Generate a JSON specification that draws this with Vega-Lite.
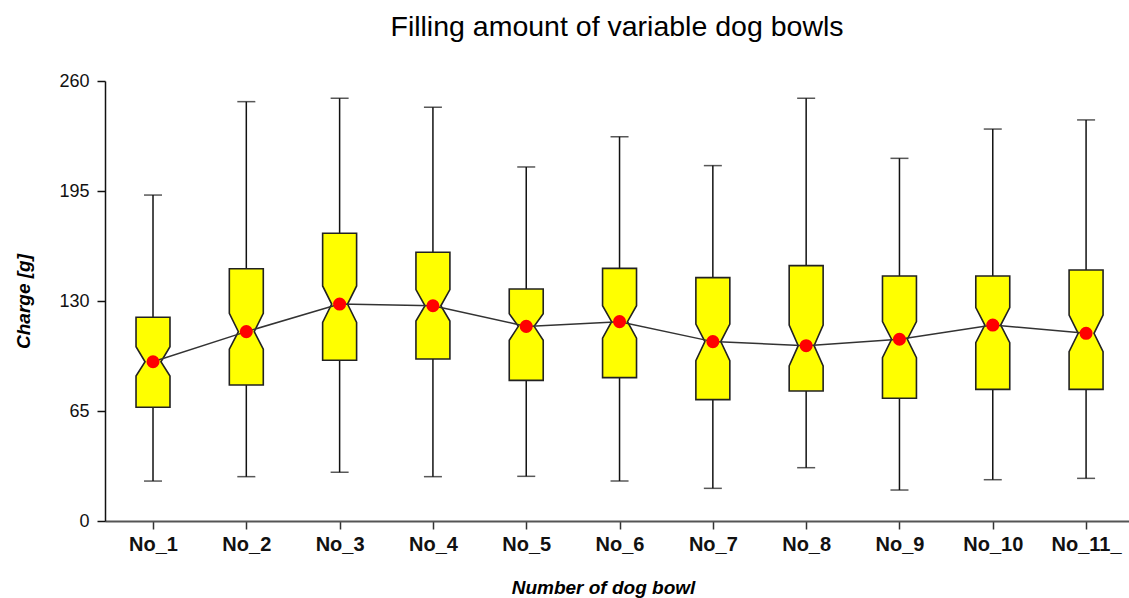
{
  "$schema": "https://vega.github.io/schema/vega-lite/v6.json",
  "width": 1024,
  "height": 440,
  "autosize": {"type": "none"},
  "padding": {"left": 105, "top": 81, "right": 0, "bottom": 77},
  "background": "white",
  "title": {
    "text": "Filling amount of variable dog bowls",
    "font": "Liberation Sans",
    "fontSize": 28.5,
    "fontWeight": "normal",
    "color": "#000000",
    "anchor": "middle",
    "offset": 31
  },
  "config": {
    "view": {"stroke": null},
    "axis": {"grid": false}
  },
  "data": {
    "values": [
      {"bowl": "No_1", "i": 1, "lo": 23.6, "q1": 67.2, "nlo": 85.7, "med": 94.1, "nhi": 103.0, "q3": 120.4, "hi": 192.6},
      {"bowl": "No_2", "i": 2, "lo": 26.2, "q1": 80.4, "nlo": 101.5, "med": 111.9, "nhi": 122.7, "q3": 149.1, "hi": 247.8},
      {"bowl": "No_3", "i": 3, "lo": 28.8, "q1": 95.0, "nlo": 117.4, "med": 128.2, "nhi": 138.9, "q3": 170.0, "hi": 249.8},
      {"bowl": "No_4", "i": 4, "lo": 26.2, "q1": 95.7, "nlo": 118.2, "med": 127.2, "nhi": 136.7, "q3": 158.8, "hi": 244.5},
      {"bowl": "No_5", "i": 5, "lo": 26.4, "q1": 83.1, "nlo": 106.8, "med": 115.0, "nhi": 122.5, "q3": 137.1, "hi": 209.2},
      {"bowl": "No_6", "i": 6, "lo": 23.6, "q1": 84.7, "nlo": 108.0, "med": 117.8, "nhi": 127.2, "q3": 149.3, "hi": 227.1},
      {"bowl": "No_7", "i": 7, "lo": 19.3, "q1": 71.7, "nlo": 94.7, "med": 106.0, "nhi": 116.4, "q3": 143.8, "hi": 210.0},
      {"bowl": "No_8", "i": 8, "lo": 31.5, "q1": 76.8, "nlo": 91.6, "med": 103.6, "nhi": 115.8, "q3": 150.9, "hi": 249.8},
      {"bowl": "No_9", "i": 9, "lo": 18.3, "q1": 72.5, "nlo": 96.5, "med": 107.4, "nhi": 117.8, "q3": 144.8, "hi": 214.3},
      {"bowl": "No_10", "i": 10, "lo": 24.4, "q1": 77.8, "nlo": 105.4, "med": 115.8, "nhi": 126.1, "q3": 144.8, "hi": 231.6},
      {"bowl": "No_11", "i": 11, "lo": 25.2, "q1": 77.8, "nlo": 100.0, "med": 110.9, "nhi": 121.7, "q3": 148.3, "hi": 237.0}
    ]
  },
  "encoding": {
    "x": {
      "field": "i",
      "type": "quantitative",
      "scale": {"domain": [0.4855, 11.46], "nice": false, "zero": false},
      "axis": {
        "title": "Number of dog bowl",
        "values": [1, 2, 3, 4, 5, 6, 7, 8, 9, 10, 11],
        "labelExpr": "datum.value == 11 ? 'No_11_' : 'No_' + datum.value",
        "labelFont": "Liberation Sans",
        "labelFontSize": 20,
        "labelFontWeight": "bold",
        "labelColor": "#111111",
        "labelPadding": 5,
        "labelFlush": false,
        "labelOverlap": false,
        "tickSize": 8,
        "tickWidth": 1.5,
        "tickColor": "#333333",
        "domainColor": "#555555",
        "domainWidth": 2,
        "titleFont": "Liberation Sans",
        "titleFontSize": 19,
        "titleFontWeight": "bold",
        "titleFontStyle": "italic",
        "titleColor": "#000000",
        "titlePadding": 24,
        "titleX": 498
      }
    }
  },
  "layer": [
    {
      "mark": {"type": "rule", "color": "#111111", "strokeWidth": 1.5},
      "encoding": {
        "y": {
          "field": "lo",
          "type": "quantitative",
          "scale": {"domain": [0, 260], "nice": false, "zero": true},
          "axis": {
            "title": "Charge [g]",
            "values": [0, 65, 130, 195, 260],
            "labelFont": "Liberation Sans",
            "labelFontSize": 18,
            "labelColor": "#111111",
            "labelPadding": 8,
            "tickSize": 8,
            "tickWidth": 1.5,
            "tickColor": "#111111",
            "domainColor": "#111111",
            "domainWidth": 1.5,
            "titleFont": "Liberation Sans",
            "titleFontSize": 19,
            "titleFontWeight": "bold",
            "titleFontStyle": "italic",
            "titleColor": "#000000",
            "titlePadding": 25
          }
        },
        "y2": {"field": "hi"}
      }
    },
    {
      "mark": {"type": "tick", "orient": "horizontal", "size": 18, "thickness": 1.5, "color": "#111111"},
      "encoding": {"y": {"field": "lo", "type": "quantitative"}}
    },
    {
      "mark": {"type": "tick", "orient": "horizontal", "size": 18, "thickness": 1.5, "color": "#111111"},
      "encoding": {"y": {"field": "hi", "type": "quantitative"}}
    },
    {
      "transform": [
        {"fold": ["q1", "nlo", "med", "nhi", "q3"], "as": ["key", "value"]},
        {"calculate": "datum.key == 'med' ? 0.085 : 0.182", "as": "hw"},
        {"calculate": "datum.i - datum.hw", "as": "xl"},
        {"calculate": "datum.i + datum.hw", "as": "xr"}
      ],
      "mark": {"type": "area", "orient": "horizontal", "fill": "#ffff00", "stroke": "#222222", "strokeWidth": 1.6, "opacity": 1},
      "encoding": {
        "x": {"field": "xl", "type": "quantitative"},
        "x2": {"field": "xr"},
        "y": {"field": "value", "type": "quantitative"},
        "detail": {"field": "bowl"}
      }
    },
    {
      "mark": {"type": "line", "color": "#333333", "strokeWidth": 1.5},
      "encoding": {"y": {"field": "med", "type": "quantitative"}}
    },
    {
      "mark": {"type": "point", "filled": true, "shape": "circle", "size": 170, "color": "#ff0000", "opacity": 1},
      "encoding": {"y": {"field": "med", "type": "quantitative"}}
    }
  ]
}
